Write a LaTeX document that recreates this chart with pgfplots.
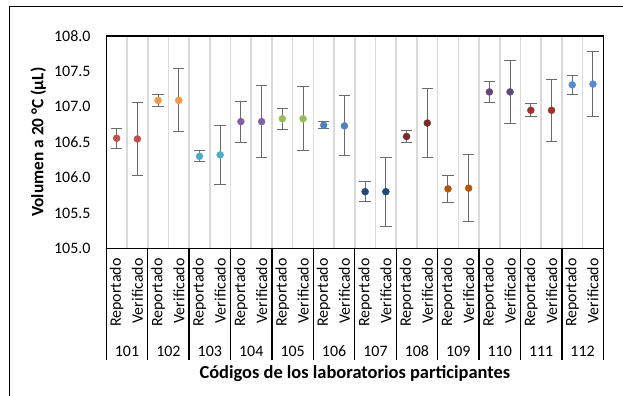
\documentclass[border=0pt]{standalone}
\usepackage{fontspec}
\setmainfont{Carlito}
\usepackage{pgfplots}
\pgfplotsset{compat=1.18}
\definecolor{c101}{HTML}{C0504D}
\definecolor{c102}{HTML}{F79646}
\definecolor{c103}{HTML}{4BACC6}
\definecolor{c104}{HTML}{8064A2}
\definecolor{c105}{HTML}{9BBB59}
\definecolor{c106}{HTML}{4F81BD}
\definecolor{c107}{HTML}{1F497D}
\definecolor{c108}{HTML}{772C2A}
\definecolor{c109}{HTML}{B65708}
\definecolor{c110}{HTML}{5F497A}
\definecolor{c111}{HTML}{A0322E}
\definecolor{c112}{HTML}{558ED5}
\definecolor{errgray}{HTML}{6A6A6A}
\definecolor{gridgray}{HTML}{D9D9D9}
\begin{document}
\fontsize{16}{19}\selectfont
\begin{tikzpicture}
\begin{axis}[
  scale only axis,
  width=497bp, height=212.3bp,
  xmin=-0.5, xmax=23.5, ymin=105, ymax=108,
  ytick={105,105.5,106,106.5,107,107.5,108},
  /pgf/number format/assume math mode=true,
  yticklabel style={/pgf/number format/fixed, /pgf/number format/fixed zerofill, /pgf/number format/precision=1,
    inner sep=0pt, anchor=east, xshift=-15.6bp},
  xtick={0,...,23},
  xticklabels={Reportado,Verificado,Reportado,Verificado,Reportado,Verificado,Reportado,Verificado,Reportado,Verificado,Reportado,Verificado,Reportado,Verificado,Reportado,Verificado,Reportado,Verificado,Reportado,Verificado,Reportado,Verificado,Reportado,Verificado},
  x tick label style={rotate=90, anchor=east, inner sep=0pt, xshift=-10bp},
  major tick length=0pt,
  minor xtick={0.5,1.5,...,22.5},
  minor tick length=0pt,
  xminorgrids,
  minor grid style={color=gridgray, line width=1.6pt},
  axis line style={black, line width=1.4pt},
  every axis plot/.append style={only marks, mark=*, mark size=3.5bp,
    error bars/y dir=both, error bars/y explicit,
    error bars/error bar style={errgray, line width=1pt},
    error bars/error mark options={rotate=90, errgray, mark size=5.7bp, line width=1pt}},
  clip=false,
]
\addplot[c101, mark options={fill=c101, draw=c101}] coordinates {(0,106.555) +- (0,0.145) (1,106.545) +- (0,0.52)};
\addplot[c102, mark options={fill=c102, draw=c102}] coordinates {(2,107.09) +- (0,0.08) (3,107.09) +- (0,0.445)};
\addplot[c103, mark options={fill=c103, draw=c103}] coordinates {(4,106.30) +- (0,0.08) (5,106.32) +- (0,0.415)};
\addplot[c104, mark options={fill=c104, draw=c104}] coordinates {(6,106.79) +- (0,0.29) (7,106.79) +- (0,0.505)};
\addplot[c105, mark options={fill=c105, draw=c105}] coordinates {(8,106.83) +- (0,0.15) (9,106.83) +- (0,0.455)};
\addplot[c106, mark options={fill=c106, draw=c106}] coordinates {(10,106.74) +- (0,0.05) (11,106.73) +- (0,0.425)};
\addplot[c107, mark options={fill=c107, draw=c107}] coordinates {(12,105.80) +- (0,0.145) (13,105.80) +- (0,0.485)};
\addplot[c108, mark options={fill=c108, draw=c108}] coordinates {(14,106.58) +- (0,0.085) (15,106.77) +- (0,0.49)};
\addplot[c109, mark options={fill=c109, draw=c109}] coordinates {(16,105.84) +- (0,0.195) (17,105.85) +- (0,0.475)};
\addplot[c110, mark options={fill=c110, draw=c110}] coordinates {(18,107.21) +- (0,0.145) (19,107.21) +- (0,0.45)};
\addplot[c111, mark options={fill=c111, draw=c111}] coordinates {(20,106.95) +- (0,0.09) (21,106.95) +- (0,0.435)};
\addplot[c112, mark options={fill=c112, draw=c112}] coordinates {(22,107.31) +- (0,0.135) (23,107.32) +- (0,0.455)};
% group separators and labels
\pgfplotsinvokeforeach{-0.5,1.5,3.5,5.5,7.5,9.5,11.5,13.5,15.5,17.5,19.5,21.5,23.5}{
  \draw[black, line width=1.4pt] (axis cs:#1,105) -- ([yshift=-112bp]axis cs:#1,105);
}
\pgfplotsinvokeforeach{0,...,11}{
  \node[inner sep=0pt] at ([yshift=-103bp]axis cs:{2*#1+0.5},105) {\pgfmathtruncatemacro\gl{101+#1}\gl};
}
\node[font=\fontsize{18.5}{22}\selectfont\bfseries, inner sep=0pt] at ([yshift=-125bp]rel axis cs:0.5,0) {Códigos de los laboratorios participantes};
\node[font=\fontsize{17.4}{21}\selectfont\bfseries, inner sep=0pt, rotate=90] at ([xshift=-68bp]rel axis cs:0,0.5) {Volumen a 20 °C (μL)};
\coordinate (SW) at (rel axis cs:0,0);
\coordinate (NE) at (rel axis cs:1,1);
\coordinate (NW) at (rel axis cs:0,1);
\end{axis}
\draw[black, line width=1pt] ([shift={(-97.3bp,-160bp)}]SW) -- ([shift={(-97.3bp,29.3bp)}]NW) -- ([shift={(30bp,29.3bp)}]NE);
\pgfresetboundingbox
\useasboundingbox ([shift={(-106.3bp,-147.7bp)}]SW) rectangle ([shift={(19.7bp,36bp)}]NE);
\end{tikzpicture}
\end{document}
